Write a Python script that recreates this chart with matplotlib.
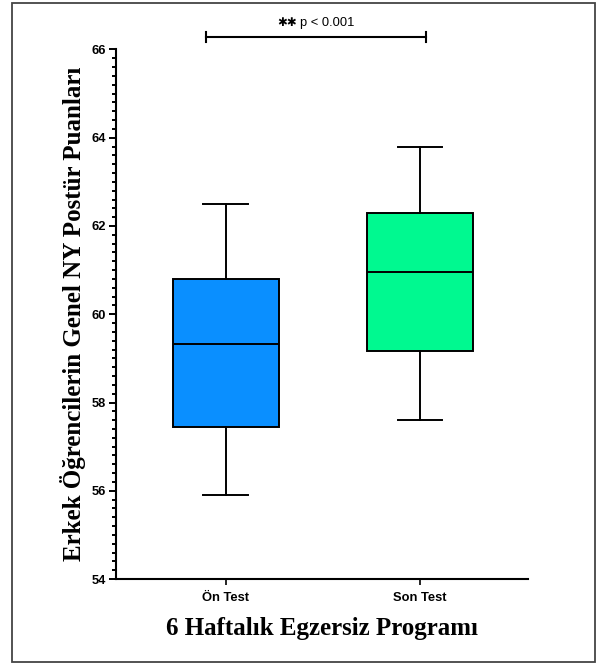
import matplotlib
matplotlib.use('Agg')
from matplotlib import pyplot as plt
from matplotlib.patches import Rectangle
from matplotlib.ticker import MultipleLocator

# veriler
groups = ['Ön Test', 'Son Test']
whis_low = [55.9, 57.6]
q1 = [57.45, 59.17]
median = [59.33, 60.95]
q3 = [60.81, 62.29]
whis_high = [62.5, 63.78]
box_colors = ['#0A8FFF', '#00F990']
p_text = 'p < 0.001'

fig = plt.figure(figsize=(6, 6.66), dpi=100)
ax = fig.add_axes([0.1933, 0.1306, 0.6867, 0.7951])

stats = []
for i, g in enumerate(groups):
    stats.append(dict(label=g, whislo=whis_low[i], q1=q1[i], med=median[i],
                      q3=q3[i], whishi=whis_high[i], fliers=[]))

lw = 1.4
bp = ax.bxp(stats, positions=range(len(groups)), widths=0.545, capwidths=0.23,
            patch_artist=True, showfliers=False,
            boxprops=dict(linewidth=lw, edgecolor='black'),
            medianprops=dict(color='black', linewidth=lw),
            whiskerprops=dict(color='black', linewidth=lw),
            capprops=dict(color='black', linewidth=lw))
for patch, c in zip(bp['boxes'], box_colors):
    patch.set_facecolor(c)

ax.set_xlim(-0.565, 1.555)
ax.set_ylim(54, 66)
ax.yaxis.set_major_locator(MultipleLocator(2))
ax.yaxis.set_minor_locator(MultipleLocator(0.2))

for s in ['top', 'right']:
    ax.spines[s].set_visible(False)
for s in ['left', 'bottom']:
    ax.spines[s].set_linewidth(1.5)

ax.tick_params(axis='y', which='major', length=5, width=1.4, pad=2.5)
ax.tick_params(axis='y', which='minor', length=3.2, width=1.4)
ax.tick_params(axis='x', which='major', length=4.5, width=1.2, pad=5)
for lab in ax.get_xticklabels() + ax.get_yticklabels():
    lab.set_family('Liberation Sans')
    lab.set_fontweight('bold')
    lab.set_fontsize(9.3)

ax.set_ylabel('Erkek Öğrencilerin Genel NY Postür Puanları',
              family='Liberation Serif', fontweight='bold', fontsize=18, labelpad=3.5)
ax.set_xlabel('6 Haftalık Egzersiz Programı',
              family='Liberation Serif', fontweight='bold', fontsize=18, labelpad=9)

# anlamlilik cizgisi
yb = 66.28
ax.plot([-0.1, 1.03], [yb, yb], color='black', linewidth=1.5, clip_on=False)
for xe in [-0.1, 1.03]:
    ax.plot([xe, xe], [yb - 0.12, yb + 0.12], color='black', linewidth=1.5, clip_on=False)
xm = 0.38
ax.text(xm - 0.015, yb + 0.18, '\u2731\u2731', ha='right', va='bottom', fontsize=8.5,
        family='DejaVu Sans')
ax.text(xm, yb + 0.18, p_text, ha='left', va='bottom', fontsize=9.3,
        family='Liberation Sans')

# cerceve
fig.patches.append(Rectangle((0.02, 0.006), 0.972, 0.99, transform=fig.transFigure,
                             fill=False, edgecolor='#444444', linewidth=1.3))

fig.savefig('out.png', dpi=100)
